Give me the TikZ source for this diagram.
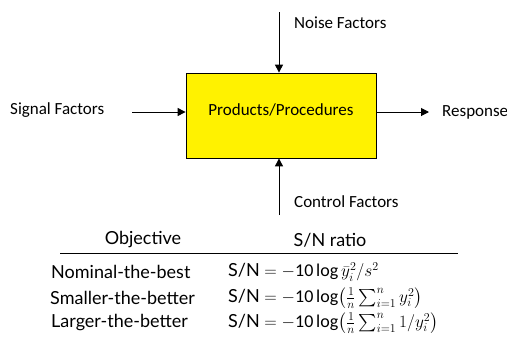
\documentclass[tikz,border=0pt]{standalone}
\usepackage{amsmath}
\usepackage{fontspec}
\setmainfont{Carlito}
\newfontfamily\tabfont{Lato}
\usetikzlibrary{arrows.meta}
\begin{document}
\begin{tikzpicture}[x=1pt,y=-1pt,
  lbl/.style={font=\fontsize{17}{19}\selectfont, inner sep=0pt},
  arr/.style={-{Triangle[length=8pt,width=8pt]}, line width=1pt},
  tab/.style={font=\tabfont\fontsize{18}{20}\selectfont, inner sep=0pt, anchor=west},
  hd/.style={font=\tabfont\fontsize{18}{20}\selectfont, inner sep=0pt}]
\useasboundingbox (0,0) rectangle (507,349);
\node[draw, line width=0.8pt, fill=yellow, minimum width=190pt, minimum height=85pt, inner sep=0pt] (box) at (281,115.5) {};
\node[lbl] (boxtxt) at (281,110) {Products/Procedures};
\coordinate (ntop) at (279,12);
\coordinate (ctop) at (279,215);
\coordinate (sl) at (132,112);
\coordinate (rr) at (429,112);
\draw[arr] (ntop) -- (ntop |- box.north);
\draw[arr] (ctop) -- (ctop |- box.south);
\draw[arr] (sl) -- (sl -| box.west);
\draw[arr] (rr -| box.east) -- (rr);
\node[lbl, anchor=west] (noise) at (294,23) {Noise Factors};
\node[lbl, anchor=west] (control) at (294,202) {Control Factors};
\node[lbl, anchor=west] (signal) at (10,110) {Signal Factors};
\node[lbl, anchor=west] (resp) at (442,112) {Response};
\node[hd] (h1) at (143,240) {Objective};
\node[hd] (h2) at (330,240) {S/N ratio};
\coordinate (rl) at (60,253);
\coordinate (rrr) at (458,253);
\draw[line width=0.8pt] (rl) -- (rrr);
\node[tab] (r1) at (51,272) {Nominal-the-best};
\node[tab] (r2) at (50,298) {Smaller-the-better};
\node[tab] (r3) at (51,323) {Larger-the-better};
\node[tab] (m1) at (228,272) {S/N $=-\mathrm{10}\log\bar{y}_i^2/s^2$};
\node[tab] (m2) at (228,298) {S/N $=-\mathrm{10}\log\!\big(\tfrac{1}{n}\sum_{i=1}^{n} y_i^2\big)$};
\node[tab] (m3) at (228,323) {S/N $=-\mathrm{10}\log\!\big(\tfrac{1}{n}\sum_{i=1}^{n} 1/y_i^2\big)$};
\end{tikzpicture}
\end{document}
